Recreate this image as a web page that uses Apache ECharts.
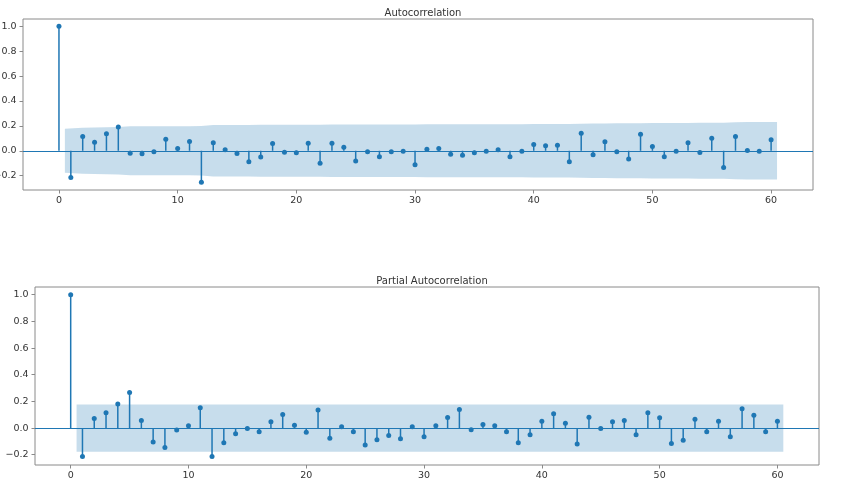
<!DOCTYPE html>
<html>
<head>
<meta charset="utf-8">
<script src="https://cdn.jsdelivr.net/npm/echarts@6/dist/echarts.min.js"></script>
<style>
  html, body { margin: 0; padding: 0; background: #fff; }
  #chart { width: 850px; height: 493px; }
</style>
</head>
<body>
<div id="chart"></div>
<script>
// lags 0..60
const lags = [0,1,2,3,4,5,6,7,8,9,10,11,12,13,14,15,16,17,18,19,20,
  21,22,23,24,25,26,27,28,29,30,31,32,33,34,35,36,37,38,39,40,
  41,42,43,44,45,46,47,48,49,50,51,52,53,54,55,56,57,58,59,60];

// autocorrelation values
const acfValues = [1.0,-0.214,0.115,0.069,0.136,0.19,-0.019,-0.024,-0.008,0.093,0.018,
  0.075,-0.252,0.064,0.008,-0.022,-0.088,-0.051,0.059,-0.011,-0.016,
  0.061,-0.1,0.061,0.029,-0.083,-0.008,-0.048,-0.008,-0.003,-0.112,
  0.013,0.018,-0.027,-0.035,-0.016,-0.003,0.008,-0.048,-0.003,0.051,
  0.04,0.044,-0.088,0.141,-0.032,0.072,-0.008,-0.067,0.133,0.035,
  -0.048,-0.003,0.064,-0.014,0.101,-0.134,0.115,0.003,-0.003,0.088];

// half width of the acf confidence band, lags 1..60
const acfBand = [0.177,0.185,0.187,0.188,0.190,0.196,0.196,0.196,0.196,0.197,
  0.197,0.198,0.206,0.207,0.207,0.207,0.208,0.208,0.208,0.208,
  0.208,0.209,0.210,0.210,0.210,0.211,0.211,0.211,0.211,0.211,
  0.212,0.212,0.212,0.212,0.212,0.212,0.213,0.213,0.213,0.214,
  0.214,0.214,0.215,0.216,0.219,0.219,0.220,0.220,0.221,0.223,
  0.223,0.223,0.223,0.224,0.224,0.225,0.228,0.230,0.230,0.231];

// partial autocorrelation values
const pacfValues = [1.0,-0.214,0.072,0.115,0.18,0.267,0.057,-0.105,-0.145,-0.015,0.017,
  0.152,-0.214,-0.11,-0.043,-0.003,-0.027,0.047,0.102,0.022,-0.032,
  0.135,-0.077,0.01,-0.027,-0.127,-0.087,-0.055,-0.08,0.01,-0.065,
  0.017,0.08,0.14,-0.012,0.027,0.017,-0.027,-0.11,-0.05,0.052,
  0.107,0.037,-0.12,0.082,-0.003,0.047,0.057,-0.05,0.115,0.077,
  -0.115,-0.092,0.067,-0.027,0.052,-0.065,0.145,0.097,-0.027,0.052];

// pacf band is flat
const pacfBand = 0.177;

const yTicks = [-0.2, 0.0, 0.2, 0.4, 0.6, 0.8, 1.0];
const xTicks = [0, 10, 20, 30, 40, 50, 60];

const blue = '#1f77b4';
const bandColor = 'rgba(31,119,180,0.25)';
const textColor = '#333';
const spine = '#8a8a8a';
const font = 'DejaVu Sans';

// band x positions: first lag shifted left, last lag shifted right (as statsmodels does)
function bandX(i) {
  let x = lags[i + 1];
  if (i === 0) x -= 0.5;
  if (i === lags.length - 2) x += 0.5;
  return x;
}

function makeX(idx) {
  return {
    type: 'value', gridIndex: idx, min: -3.03, max: 63.53,
    axisLine: { show: false, onZero: false },
    splitLine: { show: false },
    axisTick: { show: true, length: 3.5, lineStyle: { color: spine }, customValues: xTicks },
    axisLabel: { customValues: xTicks, color: textColor, fontFamily: font, fontSize: 9.5, margin: 6 }
  };
}
function makeY(idx, min, max) {
  return {
    type: 'value', gridIndex: idx, min: min, max: max,
    axisLine: { show: false, onZero: false },
    splitLine: { show: false },
    axisTick: { show: true, length: 3.5, lineStyle: { color: spine }, customValues: yTicks },
    axisLabel: {
      customValues: yTicks, color: textColor, fontFamily: font, fontSize: 9.5, margin: 6.5,
      formatter: v => v.toFixed(1).replace('-', '\u2212')
    }
  };
}

function plotSeries(idx, values, bandUp) {
  const upper = [], lower = [];
  for (let i = 0; i < bandUp.length; i++) {
    upper.push([bandX(i), bandUp[i]]);
    lower.push([bandX(i), -bandUp[i]]);
  }
  const pts = lags.map((l, i) => [l, values[i]]);
  const band = {
    type: 'line', xAxisIndex: idx, yAxisIndex: idx, showSymbol: false, silent: true,
    lineStyle: { width: 0 }, areaStyle: { color: bandColor, origin: 0, opacity: 1 }, z: 1
  };
  return [
    Object.assign({}, band, { data: upper }),
    Object.assign({}, band, { data: lower }),
    {
      type: 'bar', xAxisIndex: idx, yAxisIndex: idx, data: pts, barWidth: 1.5,
      itemStyle: { color: blue }, silent: true, z: 2
    },
    {
      type: 'scatter', xAxisIndex: idx, yAxisIndex: idx, data: pts, symbolSize: 5,
      itemStyle: { color: blue, opacity: 1 }, silent: true, z: 3,
      markLine: {
        silent: true, symbol: 'none', label: { show: false },
        lineStyle: { color: blue, width: 1.2, type: 'solid' },
        data: [{ yAxis: 0 }]
      }
    }
  ];
}

const chart = echarts.init(document.getElementById('chart'), null, { renderer: 'canvas' });
chart.setOption({
  animation: false,
  backgroundColor: '#fff',
  title: [
    { text: 'Autocorrelation', left: 418, top: 3, textAlign: 'center',
      textStyle: { fontFamily: font, fontSize: 10, fontWeight: 'normal', color: textColor } },
    { text: 'Partial Autocorrelation', left: 427, top: 271, textAlign: 'center',
      textStyle: { fontFamily: font, fontSize: 10, fontWeight: 'normal', color: textColor } }
  ],
  grid: [
    { left: 23, top: 19, width: 790, height: 171, show: true, borderColor: spine, borderWidth: 1,
      backgroundColor: 'transparent', outerBoundsMode: 'none', containLabel: false },
    { left: 35, top: 287, width: 784, height: 178, show: true, borderColor: spine, borderWidth: 1,
      backgroundColor: 'transparent', outerBoundsMode: 'none', containLabel: false }
  ],
  xAxis: [makeX(0), makeX(1)],
  yAxis: [makeY(0, -0.315, 1.058), makeY(1, -0.277, 1.058)],
  series: plotSeries(0, acfValues, acfBand).concat(
    plotSeries(1, pacfValues, lags.slice(1).map(() => pacfBand)))
});
</script>
</body>
</html>
